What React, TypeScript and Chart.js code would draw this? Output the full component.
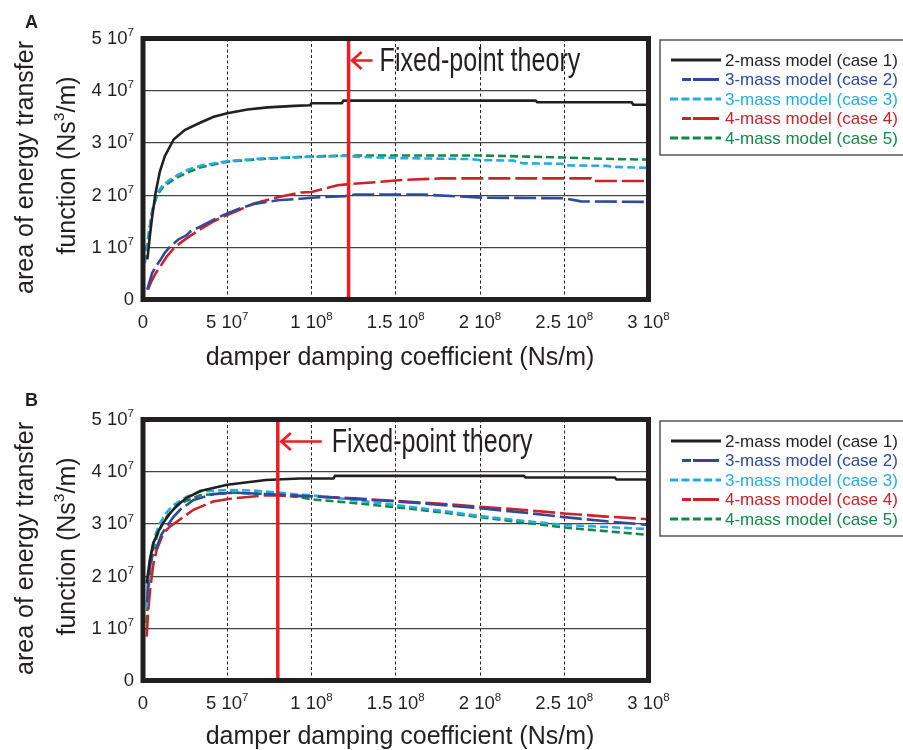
import React, { useEffect, useRef } from 'react';
import { Chart, registerables } from 'chart.js';

Chart.register(...registerables);

const FONT = '"Liberation Sans", Arial, Helvetica, sans-serif';

// ---------- shared labels ----------
const seriesLabels = [
  '2-mass model (case 1)',
  '3-mass model (case 2)',
  '3-mass model (case 3)',
  '4-mass model (case 4)',
  '4-mass model (case 5)',
];
const seriesColors = ['#231f20', '#2e4a9c', '#27aae1', '#cc2229', '#118a47'];
const seriesDash: number[][] = [[], [22, 5], [8, 4], [22, 5], [8, 4]];
const legendDash: number[][] = [[], [9, 2, 26, 60], [8, 3.4], [9, 2, 26, 60], [8, 3.4]];
const legendStart = [671, 682, 670, 682, 670];

// x in units of 1e7 Ns/m, y in units of 1e7 Ns^3/m
const xTickValues = [0, 5, 10, 15, 20, 25, 30];
const xTickBase = ['0', '5 10', '1 10', '1.5 10', '2 10', '2.5 10', '3 10'];
const xTickExp = ['', '7', '8', '8', '8', '8', '8'];
const yTickValues = [0, 1, 2, 3, 4, 5];
const yTickBase = ['0', '1 10', '2 10', '3 10', '4 10', '5 10'];
const yTickExp = ['', '7', '7', '7', '7', '7'];

// ---------- panel A ----------
const aCase1X = [0.26, 0.4, 0.55, 0.75, 1.0, 1.3, 1.83, 2.5, 3.42, 4.2, 5.0, 6.2, 7.4, 9.0, 9.9, 10.0, 11.8, 11.9, 23.3, 23.4, 29.0, 29.1, 30];
const aCase1Y = [0.77, 1.2, 1.6, 2.05, 2.45, 2.75, 3.07, 3.25, 3.39, 3.5, 3.57, 3.64, 3.68, 3.71, 3.72, 3.76, 3.76, 3.81, 3.81, 3.78, 3.78, 3.73, 3.73];
const aCase2X = [0.25, 0.4, 0.55, 0.8, 1.04, 1.3, 1.63, 2.1, 2.62, 2.8, 3.42, 4.2, 5.0, 5.8, 6.58, 8.0, 9.36, 10.0, 12.0, 12.6, 16.6, 20.2, 25.0, 26.0, 30];
const aCase2Y = [0.19, 0.35, 0.51, 0.65, 0.76, 0.9, 1.02, 1.15, 1.24, 1.3, 1.4, 1.53, 1.65, 1.75, 1.83, 1.9, 1.93, 1.95, 1.98, 2.01, 2.01, 1.95, 1.94, 1.88, 1.87];
const aCase3X = [0.1, 0.2, 0.35, 0.55, 0.84, 1.2, 1.64, 2.1, 2.62, 3.5, 5.0, 7.0, 9.36, 12.0, 13.0, 15.0, 17.0, 19.5, 20.0, 22.0, 22.5, 24.9, 25.0, 27.5, 28.0, 30];
const aCase3Y = [0.7, 0.95, 1.27, 1.7, 2.04, 2.2, 2.3, 2.39, 2.48, 2.57, 2.65, 2.7, 2.73, 2.75, 2.73, 2.71, 2.7, 2.69, 2.67, 2.66, 2.61, 2.6, 2.57, 2.56, 2.54, 2.52];
const aCase4X = [0.3, 0.5, 0.75, 1.04, 1.4, 1.8, 2.2, 2.62, 3.42, 4.2, 5.0, 5.8, 6.58, 8.0, 9.36, 10.0, 11.55, 12.2, 13.9, 15.4, 17.7, 26.6, 26.7, 30];
const aCase4Y = [0.19, 0.35, 0.5, 0.64, 0.82, 0.97, 1.08, 1.18, 1.35, 1.5, 1.62, 1.73, 1.84, 1.96, 2.05, 2.06, 2.19, 2.21, 2.25, 2.29, 2.32, 2.32, 2.27, 2.27];
const aCase5X = [0.1, 0.2, 0.35, 0.55, 0.84, 1.2, 1.64, 2.1, 2.62, 3.5, 5.0, 7.0, 9.36, 12.0, 15.0, 20.0, 25.0, 28.0, 30];
const aCase5Y = [0.7, 0.95, 1.27, 1.7, 2.0, 2.16, 2.26, 2.35, 2.43, 2.54, 2.64, 2.69, 2.73, 2.76, 2.76, 2.76, 2.72, 2.69, 2.68];
const aFixedPoint = 12.2;

// ---------- panel B ----------
const bCase1X = [0.22, 0.4, 0.6, 0.9, 1.2, 1.6, 2.0, 2.6, 3.4, 5.0, 7.3, 9.3, 11.3, 11.4, 22.6, 22.7, 28.0, 28.1, 30];
const bCase1Y = [1.86, 2.3, 2.62, 2.85, 3.02, 3.2, 3.35, 3.5, 3.63, 3.75, 3.84, 3.87, 3.87, 3.92, 3.92, 3.89, 3.89, 3.85, 3.85];
const bCase2X = [0.25, 0.31, 0.5, 0.81, 1.1, 1.41, 1.8, 2.2, 3.0, 4.17, 5.36, 7.34, 9.32, 10, 12.5, 15, 17.5, 20, 22.5, 25, 27.5, 30];
const bCase2Y = [1.5, 1.99, 2.35, 2.56, 2.8, 2.95, 3.13, 3.27, 3.46, 3.57, 3.6, 3.57, 3.54, 3.53, 3.48, 3.43, 3.37, 3.3, 3.22, 3.13, 3.05, 2.98];
const bCase3X = [0.22, 0.35, 0.52, 0.75, 1.0, 1.4, 1.8, 2.6, 3.4, 5.0, 6.5, 8.0, 9.3, 10, 12.5, 15, 17.5, 20, 22.5, 25, 27.5, 30];
const bCase3Y = [1.41, 2.0, 2.5, 2.8, 3.01, 3.22, 3.36, 3.52, 3.62, 3.65, 3.64, 3.6, 3.56, 3.55, 3.46, 3.36, 3.26, 3.15, 3.06, 2.98, 2.94, 2.9];
const bCase4X = [0.22, 0.3, 0.42, 0.6, 0.81, 1.2, 1.6, 2.0, 2.99, 4.17, 5.36, 7.34, 9.32, 10, 12.5, 15, 17.5, 20, 22.5, 25, 27.5, 30];
const bCase4Y = [0.84, 1.3, 1.73, 2.2, 2.5, 2.82, 2.95, 3.04, 3.27, 3.43, 3.49, 3.55, 3.53, 3.53, 3.49, 3.44, 3.39, 3.33, 3.27, 3.2, 3.14, 3.09];
const bCase5X = [0.22, 0.3, 0.42, 0.6, 0.81, 1.1, 1.41, 1.8, 2.2, 3.38, 5.36, 7.34, 9.32, 10, 12.5, 15, 17.5, 20, 22.5, 25, 27.5, 30];
const bCase5Y = [1.1, 1.6, 2.12, 2.5, 2.75, 2.97, 3.14, 3.28, 3.39, 3.55, 3.6, 3.57, 3.51, 3.47, 3.4, 3.32, 3.23, 3.13, 3.03, 2.93, 2.86, 2.79];
const bFixedPoint = 8.0;

type Seg = [string, boolean];

function drawRich(ctx: CanvasRenderingContext2D, segs: Seg[], x: number, y: number, size: number, align: 'left' | 'center' | 'right') {
  const supSize = size * 0.62;
  let w = 0;
  for (const [t, sup] of segs) {
    ctx.font = `${sup ? supSize : size}px ${FONT}`;
    w += ctx.measureText(t).width;
  }
  let cx = align === 'left' ? x : align === 'center' ? x - w / 2 : x - w;
  ctx.textAlign = 'left';
  ctx.textBaseline = 'alphabetic';
  for (const [t, sup] of segs) {
    ctx.font = `${sup ? supSize : size}px ${FONT}`;
    ctx.fillText(t, cx, sup ? y - size * 0.42 : y);
    cx += ctx.measureText(t).width;
  }
}

interface PanelProps {
  letter: string;
  letterBaseline: number;
  height: number;
  top: number;
  xs: number[][];
  ys: number[][];
  fixedPoint: number;
  arrowLen: number;
  textGap: number;
  xTitleOffset: number;
}

const CHART_TOP = 38.5;
const CHART_BOTTOM = 299.5;
const CHART_LEFT = 143;
const CHART_RIGHT = 648.5;

function Panel(props: PanelProps) {
  const ref = useRef<HTMLCanvasElement>(null);
  useEffect(() => {
    const canvas = ref.current!;
    const datasets: any[] = [
      {
        label: 'fixed',
        data: [{ x: props.fixedPoint, y: 0 }, { x: props.fixedPoint, y: 5 }],
        borderColor: '#ed1c24',
        borderWidth: 3.5,
        pointRadius: 0,
        order: 0,
      },
    ];
    for (let i = 0; i < 5; i++) {
      datasets.push({
        label: seriesLabels[i],
        data: props.xs[i].map((x, j) => ({ x, y: props.ys[i][j] })),
        borderColor: seriesColors[i],
        borderWidth: 2.6,
        borderDash: seriesDash[i],
        pointRadius: 0,
        tension: 0,
        order: 1,
      });
    }

    const overlay = {
      id: 'overlay',
      afterDraw(chart: any) {
        const ctx: CanvasRenderingContext2D = chart.ctx;
        const a = chart.chartArea;
        const xs = chart.scales.x;
        const ys = chart.scales.y;
        ctx.save();
        // frame
        ctx.strokeStyle = '#231f20';
        ctx.lineWidth = 5;
        ctx.setLineDash([]);
        ctx.strokeRect(a.left, a.top, a.right - a.left, a.bottom - a.top);

        // fixed-point annotation
        const rx = xs.getPixelForValue(props.fixedPoint);
        const ay = a.top + 22;
        ctx.strokeStyle = '#ed1c24';
        ctx.lineWidth = 2.7;
        ctx.beginPath();
        ctx.moveTo(rx + 3, ay);
        ctx.lineTo(rx + props.arrowLen, ay);
        ctx.moveTo(rx + 13, ay - 8.5);
        ctx.lineTo(rx + 3.5, ay);
        ctx.lineTo(rx + 13, ay + 8.5);
        ctx.stroke();
        ctx.fillStyle = '#231f20';
        ctx.save();
        ctx.translate(rx + props.textGap, a.top + 32);
        ctx.scale(0.76, 1);
        ctx.font = `33px ${FONT}`;
        ctx.textAlign = 'left';
        ctx.textBaseline = 'alphabetic';
        ctx.fillText('Fixed-point theory', 0, 0);
        ctx.restore();

        // tick labels
        ctx.fillStyle = '#231f20';
        xTickValues.forEach((v, i) => {
          const px = xs.getPixelForValue(v);
          const segs: Seg[] = [[xTickBase[i], false]];
          if (xTickExp[i]) segs.push([xTickExp[i], true]);
          drawRich(ctx, segs, px, a.bottom + 28.5, 18.5, 'center');
        });
        yTickValues.forEach((v, i) => {
          const py = ys.getPixelForValue(v);
          const segs: Seg[] = [[yTickBase[i], false]];
          if (yTickExp[i]) segs.push([yTickExp[i], true]);
          drawRich(ctx, segs, 134, py + 5.5, 18.5, 'right');
        });

        // axis titles
        drawRich(ctx, [['damper damping coefficient (Ns/m)', false]], 400, a.bottom + props.xTitleOffset, 25, 'center');
        ctx.save();
        ctx.translate(24, a.top + 129);
        ctx.rotate(-Math.PI / 2);
        drawRich(ctx, [['area of energy transfer', false]], 0, 8.5, 25, 'center');
        ctx.restore();
        ctx.save();
        ctx.translate(66, a.top + 127);
        ctx.rotate(-Math.PI / 2);
        drawRich(ctx, [['function (Ns', false], ['3', true], ['/m)', false]], 0, 8.5, 25, 'center');
        ctx.restore();

        // panel letter
        ctx.font = `bold 18px ${FONT}`;
        ctx.textAlign = 'left';
        ctx.textBaseline = 'alphabetic';
        ctx.fillText(props.letter, 25, props.letterBaseline);

        // legend
        const lt = a.top + 1.5;
        ctx.strokeStyle = '#555555';
        ctx.lineWidth = 1.5;
        ctx.strokeRect(660, lt, 260, 115);
        for (let i = 0; i < 5; i++) {
          const ly = a.top + 21.5 + i * 19.5;
          ctx.strokeStyle = seriesColors[i];
          ctx.lineWidth = 3;
          ctx.setLineDash(legendDash[i]);
          ctx.beginPath();
          ctx.moveTo(legendStart[i], ly);
          ctx.lineTo(721, ly);
          ctx.stroke();
          ctx.setLineDash([]);
          ctx.fillStyle = seriesColors[i];
          ctx.font = `17px ${FONT}`;
          ctx.textAlign = 'left';
          ctx.textBaseline = 'middle';
          ctx.fillText(seriesLabels[i], 725, ly + 1);
        }
        ctx.restore();
      },
    };

    const chart = new Chart(canvas, {
      type: 'line',
      data: { datasets },
      options: {
        animation: false,
        responsive: false,
        events: [],
        layout: {
          padding: {
            left: CHART_LEFT,
            right: 903 - CHART_RIGHT,
            top: CHART_TOP,
            bottom: props.height - CHART_BOTTOM,
          },
        },
        plugins: { legend: { display: false }, title: { display: false }, tooltip: { enabled: false } },
        scales: {
          x: {
            type: 'linear',
            min: 0,
            max: 30,
            ticks: { display: false, stepSize: 5 },
            grid: { color: '#231f20', lineWidth: 1, drawTicks: false },
            border: { display: false, dash: [3, 2.5] },
            afterFit: (s: any) => { s.height = 0; },
          },
          y: {
            type: 'linear',
            min: 0,
            max: 5,
            ticks: { display: false, stepSize: 1 },
            grid: { color: '#444444', lineWidth: 1.2, drawTicks: false },
            border: { display: false },
            afterFit: (s: any) => { s.width = 0; },
          },
        },
      } as any,
      plugins: [overlay],
    });
    return () => chart.destroy();
  }, []);

  return (
    <canvas
      ref={ref}
      width={903}
      height={props.height}
      style={{ position: 'absolute', left: 0, top: props.top, width: 903, height: props.height }}
    />
  );
}

export default function App() {
  return (
    <div style={{ position: 'absolute', left: 0, top: 0, width: 903, height: 750, background: '#ffffff', overflow: 'hidden' }}>
      <Panel
        letter="A"
        letterBaseline={28}
        height={381}
        top={0}
        xs={[aCase1X, aCase2X, aCase3X, aCase4X, aCase5X]}
        ys={[aCase1Y, aCase2Y, aCase3Y, aCase4Y, aCase5Y]}
        fixedPoint={aFixedPoint}
        arrowLen={24}
        textGap={31}
        xTitleOffset={65.5}
      />
      <Panel
        letter="B"
        letterBaseline={25}
        height={369}
        top={381}
        xs={[bCase1X, bCase2X, bCase3X, bCase4X, bCase5X]}
        ys={[bCase1Y, bCase2Y, bCase3Y, bCase4Y, bCase5Y]}
        fixedPoint={bFixedPoint}
        arrowLen={44}
        textGap={54}
        xTitleOffset={63}
      />
    </div>
  );
}
